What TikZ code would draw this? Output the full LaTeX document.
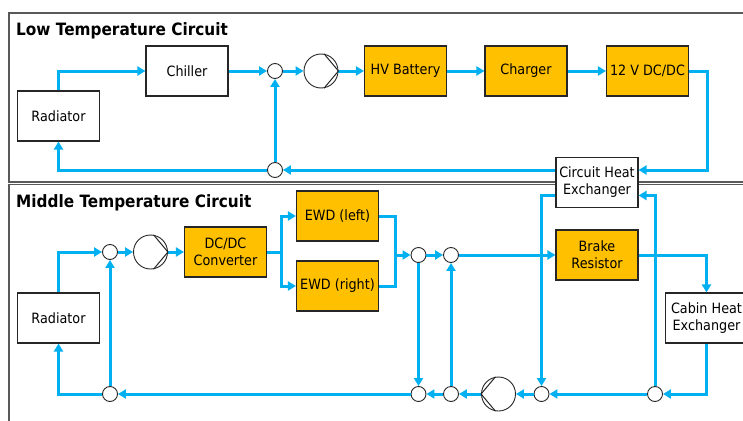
\documentclass[tikz,border=0pt]{standalone}
\usepackage{fontspec}
\setmainfont[FakeStretch=0.9]{DejaVu Sans}
\usetikzlibrary{arrows.meta}
\definecolor{pipecol}{HTML}{00B0F0}
\definecolor{heatcol}{HTML}{FFC000}
\definecolor{framecol}{HTML}{595959}
\tikzset{
  cbox/.style={rectangle, draw=black!85, line width=1.1pt, fill=white, minimum width=82pt, minimum height=50pt, align=center, inner sep=1pt},
  hbox/.style={cbox, fill=heatcol},
  junc/.style={circle, draw=black!85, line width=0.9pt, fill=white, minimum size=15pt, inner sep=0pt},
  pumpc/.style={circle, draw=black!85, line width=0.9pt, fill=white, minimum size=34pt, inner sep=0pt},
  pipe/.style={draw=pipecol, line width=3pt},
  flow/.style={pipe, -{Triangle[length=8pt,width=9pt]}},
  title/.style={anchor=base west, inner sep=0pt, font=\bfseries\fontsize{17}{19}\selectfont},
}

\begin{document}
\begin{tikzpicture}[x=1pt, y=-1pt, font=\fontsize{14.2}{17}\selectfont]
  \useasboundingbox (0,0) rectangle (743,420);
  \clip (0,0) rectangle (743,420);
  % frames of the two circuits
  \draw[framecol, line width=1.2pt] (760,13) -- (9,13) -- (9,182) -- (760,182);
  \draw[framecol, line width=1.2pt] (760,184.5) -- (9,184.5) -- (9,430);
  \node[title] (tlow) at (16,36) {Low Temperature Circuit};
  \node[title] (tmid) at (16,207) {Middle Temperature Circuit};

  % low temperature circuit
  \node[cbox]  (radL)  at (58.5,116)   {Radiator};
  \node[cbox]  (chiL)  at (187,71)     {Chiller};
  \node[junc]  (jLa)   at (275,71)     {};
  \node[pumpc] (pumpL) at (321,71)     {};
  \node[hbox]  (hvb)   at (405.5,71)   {HV Battery};
  \node[hbox]  (chg)   at (526,71)     {Charger};
  \node[hbox]  (dcL)   at (647.5,71)   {12 V DC/DC};
  \node[cbox]  (chx)   at (597,182.5)  {Circuit Heat\\Exchanger};
  \node[junc]  (jLb)   at (275,170)    {};
  \coordinate (chxinL)  at ([yshift=12.5pt]chx.east);
  \coordinate (chxoutL) at ([yshift=12.5pt]chx.west);
  \coordinate (chxinM)  at ([yshift=-13pt]chx.east);
  \coordinate (chxoutM) at ([yshift=-13pt]chx.west);

  \draw[flow] (radL.north) |- (chiL);
  \draw[flow] (chiL) -- (jLa);
  \draw[flow] (jLa) -- (pumpL);
  \draw[flow] (pumpL) -- (hvb);
  \draw[flow] (hvb) -- (chg);
  \draw[flow] (chg) -- (dcL);
  \draw[flow] (dcL.east) -- ++(18.5,0) |- (chxinL);
  \draw[flow] (chxoutL) -- (jLb);
  \draw[flow] (jLb) -| (radL.south);
  \draw[flow] (jLb) -- (jLa);

  % middle temperature circuit
  \node[cbox]  (radM)  at (58.5,318)   {Radiator};
  \node[junc]  (jMa)   at (110,252)    {};
  \node[pumpc] (pumpM) at (150.5,252)  {};
  \node[hbox]  (dcM)   at (225.5,252)  {DC/DC\\Converter};
  \node[hbox]  (ewdl)  at (337.5,216)  {EWD (left)};
  \node[hbox]  (ewdr)  at (337.5,286)  {EWD (right)};
  \node[junc]  (jMb)   at (418.5,255)  {};
  \node[junc]  (jMc)   at (451,255)    {};
  \node[hbox]  (brk)   at (597,255)    {Brake\\Resistor};
  \node[cbox]  (cabhx) at (706.5,318)  {Cabin Heat\\Exchanger};
  \node[junc]  (jMd)   at (110,394)    {};
  \node[junc]  (jMe)   at (418.5,394)  {};
  \node[junc]  (jMf)   at (451,394)    {};
  \node[pumpc] (pumpR) at (498.5,394)  {};
  \node[junc]  (jMg)   at (541.5,394)  {};
  \node[junc]  (jMh)   at (655,394)    {};
  \coordinate (split) at (281,252);
  \coordinate (merge) at (395,255);

  \draw[flow] (radM.north) |- (jMa);
  \draw[flow] (jMa) -- (pumpM);
  \draw[flow] (pumpM) -- (dcM);
  \draw[pipe] (dcM) -- (split);
  \draw[flow] (split) |- (ewdl);
  \draw[flow] (split) |- (ewdr);
  \draw[pipe] (ewdl.east) -| (merge);
  \draw[pipe] (ewdr.east) -| (merge);
  \draw[flow] (merge) -- (jMb);
  \draw[flow] (jMb) -- (jMc);
  \draw[flow] (jMc) -- (brk);
  \draw[flow] (brk.east) -| (cabhx.north);
  \draw[flow] (cabhx.south) |- (jMh);
  \draw[flow] (jMh) |- (chxinM);
  \draw[flow] (chxoutM) -| (jMg);
  \draw[flow] (jMh) -- (jMg);
  \draw[flow] (jMg) -- (pumpR);
  \draw[flow] (pumpR) -- (jMf);
  \draw[flow] (jMf) -- (jMe);
  \draw[flow] (jMe) -- (jMd);
  \draw[flow] (jMd) -| (radM.south);
  \draw[flow] (jMd) -- (jMa);
  \draw[flow] (jMb) -- (jMe);
  \draw[flow] (jMf) -- (jMc);

  % pump symbols
  \foreach \p in {pumpL, pumpM}
    \draw[black!85, line width=1pt] (\p.80) -- (\p.east) -- (\p.-80);
  \draw[black!85, line width=1pt] (pumpR.100) -- (pumpR.west) -- (pumpR.260);
\end{tikzpicture}
\end{document}
